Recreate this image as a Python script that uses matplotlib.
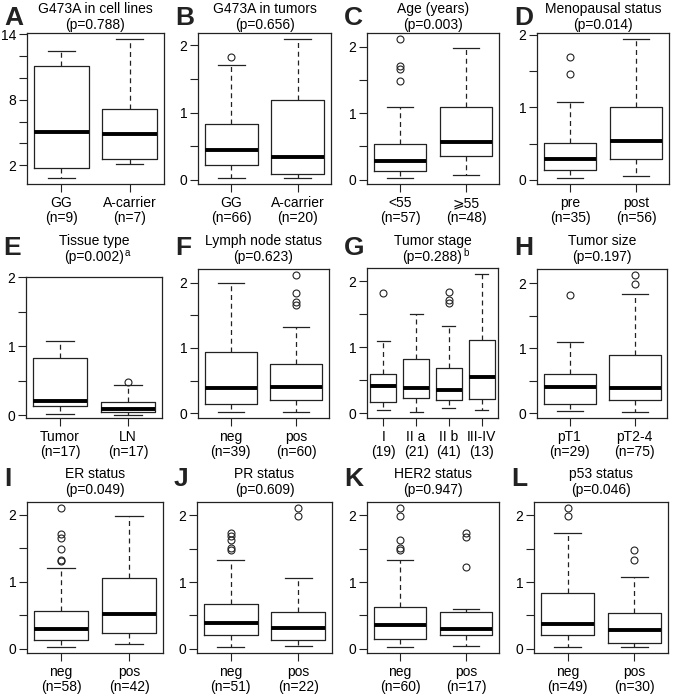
import matplotlib
matplotlib.use("Agg")
import matplotlib.pyplot as plt

plt.rcParams['font.family'] = ['Liberation Sans', 'DejaVu Sans']

# panel titles (line 1, line 2, superscript note)
titles = [
    ("G473A in cell lines", "(p=0.788)", ""),
    ("G473A in tumors", "(p=0.656)", ""),
    ("Age (years)", "(p=0.003)", ""),
    ("Menopausal status", "(p=0.014)", ""),
    ("Tissue type", "(p=0.002)", "a"),
    ("Lymph node status", "(p=0.623)", ""),
    ("Tumor stage", "(p=0.288)", "b"),
    ("Tumor size", "(p=0.197)", ""),
    ("ER status", "(p=0.049)", ""),
    ("PR status", "(p=0.609)", ""),
    ("HER2 status", "(p=0.947)", ""),
    ("p53 status", "(p=0.046)", ""),
]
letters = list("ABCDEFGHIJKL")

# group labels per panel
labels_a = ["GG\n(n=9)", "A-carrier\n(n=7)"]
labels_b = ["GG\n(n=66)", "A-carrier\n(n=20)"]
labels_c = ["<55\n(n=57)", "\u2a7e55\n(n=48)"]
labels_d = ["pre\n(n=35)", "post\n(n=56)"]
labels_e = ["Tumor\n(n=17)", "LN\n(n=17)"]
labels_f = ["neg\n(n=39)", "pos\n(n=60)"]
labels_g = ["I\n(19)", "II a\n(21)", "II b\n(41)", "III-IV\n(13)"]
labels_h = ["pT1\n(n=29)", "pT2-4\n(n=75)"]
labels_i = ["neg\n(n=58)", "pos\n(n=42)"]
labels_j = ["neg\n(n=51)", "pos\n(n=22)"]
labels_k = ["neg\n(n=60)", "pos\n(n=17)"]
labels_l = ["neg\n(n=49)", "pos\n(n=30)"]

# five-number summaries: lower whisker, Q1, median, Q3, upper whisker
stats_a = [[0.80, 1.72, 5.08, 11.11, 12.49], [2.12, 2.62, 4.83, 7.11, 13.6]]
stats_b = [[0.02, 0.22, 0.45, 0.83, 1.71], [0.025, 0.09, 0.34, 1.18, 2.10]]
stats_c = [[0.02, 0.136, 0.286, 0.533, 1.095], [0.075, 0.352, 0.563, 1.095, 1.985]]
stats_d = [[0.018, 0.14, 0.28, 0.51, 1.08], [0.046, 0.29, 0.53, 1.0, 1.95]]
stats_e = [[0.015, 0.13, 0.21, 0.831, 1.073], [0.005, 0.05, 0.09, 0.20, 0.443]]
stats_f = [[0.01, 0.146, 0.384, 0.944, 1.99], [0.02, 0.197, 0.40, 0.753, 1.318]]
stats_g = [[0.04, 0.162, 0.419, 0.59, 1.10], [0.01, 0.232, 0.384, 0.823, 1.50],
           [0.07, 0.197, 0.355, 0.68, 1.318], [0.04, 0.21, 0.556, 1.11, 2.12]]
stats_h = [[0.04, 0.142, 0.405, 0.597, 1.104], [0.01, 0.203, 0.395, 0.896, 1.833]]
stats_i = [[0.02, 0.136, 0.302, 0.564, 1.214], [0.065, 0.237, 0.514, 1.058, 1.985]]
stats_j = [[0.02, 0.207, 0.393, 0.665, 1.325], [0.035, 0.136, 0.317, 0.554, 1.068]]
stats_k = [[0.02, 0.146, 0.358, 0.62, 1.325], [0.045, 0.212, 0.292, 0.554, 0.594]]
stats_l = [[0.02, 0.212, 0.368, 0.83, 1.728], [0.02, 0.086, 0.287, 0.534, 1.073]]

# outliers
out_a = [[], []]
out_b = [[1.82], []]
out_c = [[2.12, 1.71, 1.66, 1.48], []]
out_d = [[1.70, 1.46], []]
out_e = [[], [0.478]]
out_f = [[], [2.126, 1.84, 1.71, 1.66]]
out_g = [[1.823], [], [1.843, 1.717, 1.667], []]
out_h = [[1.823], [2.137, 1.99]]
out_i = [[2.11, 1.713, 1.662, 1.486, 1.325, 1.31], []]
out_j = [[1.738, 1.688, 1.637, 1.511, 1.486], [2.116, 1.99]]
out_k = [[2.116, 1.99, 1.637, 1.511, 1.486], [1.728, 1.678, 1.219]]
out_l = [[2.116, 1.99], [1.486, 1.325]]

all_labels = [labels_a, labels_b, labels_c, labels_d, labels_e, labels_f,
              labels_g, labels_h, labels_i, labels_j, labels_k, labels_l]
all_stats = [stats_a, stats_b, stats_c, stats_d, stats_e, stats_f,
             stats_g, stats_h, stats_i, stats_j, stats_k, stats_l]
all_out = [out_a, out_b, out_c, out_d, out_e, out_f,
           out_g, out_h, out_i, out_j, out_k, out_l]

W, H = 673, 699
# axes boxes in pixels: left, top, right, bottom
boxes = [
    (27, 33, 164, 184), (198, 33, 331, 184), (367, 33, 499, 184), (537, 33, 669, 184),
    (26, 277, 162, 418), (198, 269, 329, 418), (367, 268, 498, 418), (537, 269, 667, 418),
    (27, 502, 163, 653), (197, 502, 332, 653), (367, 502, 499, 653), (534, 502, 668, 653),
]
title_base = [29, 261, 494]
letter_base = [25, 255, 486]

col = "#222222"
fig = plt.figure(figsize=(W / 100, H / 100), dpi=100)
renderer = fig.canvas.get_renderer()

for k in range(12):
    l, t, r, b = boxes[k]
    ax = fig.add_axes([l / W, 1 - b / H, (r - l) / W, (b - t) / H])
    bstats = []
    lo, hi = 1e9, -1e9
    for s, o, lab in zip(all_stats[k], all_out[k], all_labels[k]):
        bstats.append(dict(whislo=s[0], q1=s[1], med=s[2], q3=s[3], whishi=s[4],
                           fliers=o, label=lab))
        lo = min([lo, s[0]] + o)
        hi = max([hi, s[4]] + o)
    n = len(bstats)
    ax.bxp(bstats, positions=range(1, n + 1), widths=0.8, capwidths=0.4,
           boxprops=dict(color=col, lw=0.9),
           medianprops=dict(color="black", lw=2.8, solid_capstyle="butt"),
           whiskerprops=dict(color=col, lw=0.9, linestyle=(0, (4, 3))),
           capprops=dict(color=col, lw=0.9),
           flierprops=dict(marker="o", mfc="none", mec=col, ms=5, mew=0.8))
    pad = 0.04 * (hi - lo)
    ax.set_ylim(lo - pad, hi + pad)
    ax.set_xlim(0.5, n + 0.5)
    if k == 0:
        ax.set_yticks([2, 4, 6, 8, 10, 12, 14])
        ax.set_yticklabels(["2", "", "", "8", "", "", "14"])
    else:
        ax.set_yticks([0, 0.5, 1, 1.5, 2])
        ax.set_yticklabels(["0", "", "1", "", "2"])
    ax.tick_params(axis="both", labelsize=10, length=5.5, width=0.8, color=col)
    ax.tick_params(axis="y", pad=2)
    ax.tick_params(axis="x", pad=3)
    for sp in ax.spines.values():
        sp.set_color(col)
        sp.set_linewidth(0.9)
    for tl in ax.get_xticklabels():
        tl.set_linespacing(1.1)

    row = k // 4
    cx = (l + r) / 2 / W
    fig.text(cx, 1 - (title_base[row] - 16) / H, titles[k][0], ha="center",
             va="baseline", fontsize=10)
    t2 = fig.text(cx, 1 - title_base[row] / H, titles[k][1], ha="center",
                  va="baseline", fontsize=10)
    if titles[k][2]:
        ext = t2.get_window_extent(renderer=renderer)
        fig.text(ext.x1 / W + 0.001, 1 - (title_base[row] - 5.5) / H, titles[k][2],
                 ha="left", va="baseline", fontsize=7)
    fig.text((l - 23) / W, 1 - letter_base[row] / H, letters[k], ha="left",
             va="baseline", fontsize=19, fontweight="bold", color=col)

fig.savefig("out.png", dpi=100)
